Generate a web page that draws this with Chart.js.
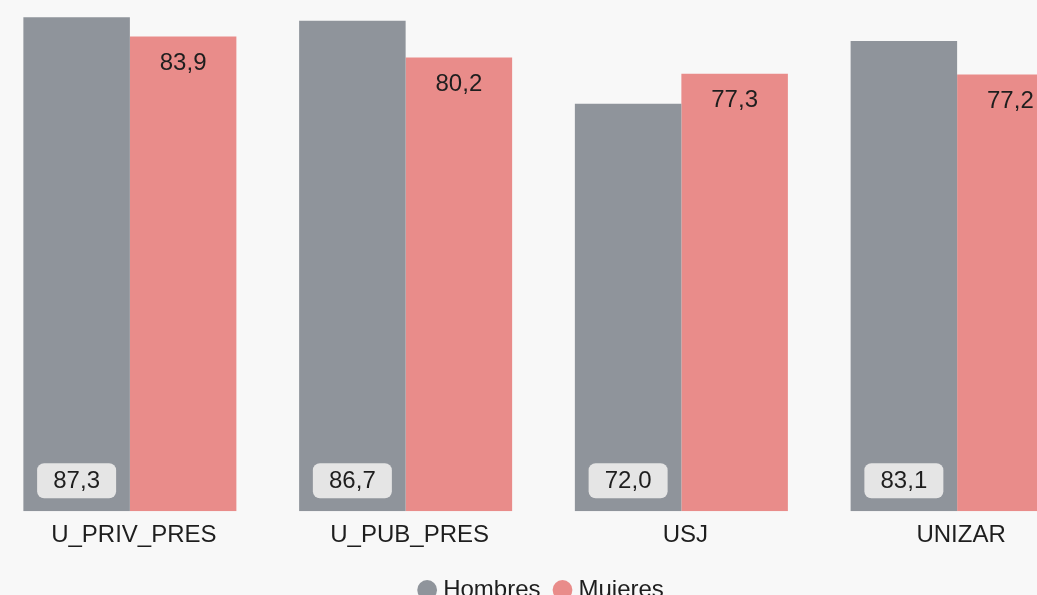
<!DOCTYPE html>
<html>
<head>
<meta charset="utf-8">
<script src="https://cdn.jsdelivr.net/npm/chart.js@4.4.0/dist/chart.umd.min.js"></script>
<style>
  html, body { margin: 0; padding: 0; background: #f8f8f8; overflow: hidden; }
  body { width: 1037px; height: 595px; position: relative; }
  #wrap { position: absolute; left: -8px; top: 0; width: 1103px; height: 612px; }
</style>
</head>
<body>
<div id="wrap"><canvas id="graph"></canvas></div>
<script>
const categories = ['U_PRIV_PRES', 'U_PUB_PRES', 'USJ', 'UNIZAR'];
const hombres = [87.3, 86.7, 72.0, 83.1];
const mujeres = [83.9, 80.2, 77.3, 77.2];

const FONT = 'Arial, "Liberation Sans", Helvetica, sans-serif';

function fmt(v) {
    return v.toFixed(1).replace('.', ',');
}

// value labels: boxed at the bottom for Hombres, plain under the top for Mujeres
const barLabels = {
    id: 'barLabels',
    afterDatasetsDraw(chart) {
        const ctx = chart.ctx;
        ctx.save();
        ctx.font = '24px ' + FONT;
        ctx.textAlign = 'center';
        ctx.textBaseline = 'middle';
        chart.data.datasets.forEach((ds, i) => {
            chart.getDatasetMeta(i).data.forEach((bar, j) => {
                const txt = fmt(ds.data[j]);
                if (i === 0) {
                    const w = 79, h = 35;
                    const bx = bar.x - w / 2;
                    const by = bar.base - 13 - h;
                    ctx.fillStyle = '#e5e5e5';
                    ctx.beginPath();
                    ctx.roundRect(bx, by, w, h, 7);
                    ctx.fill();
                    ctx.fillStyle = '#1e1e1e';
                    ctx.fillText(txt, bar.x, by + h / 2 + 1);
                } else {
                    ctx.fillStyle = '#1e1e1e';
                    ctx.fillText(txt, bar.x, bar.y + 27);
                }
            });
        });
        ctx.restore();
    }
};

const config = {
    type: 'bar',
    data: {
        labels: categories,
        datasets: [
            {
                label: 'Hombres',
                data: hombres,
                backgroundColor: '#8f949b',
                categoryPercentage: 0.7725,
                barPercentage: 1.0
            },
            {
                label: 'Mujeres',
                data: mujeres,
                backgroundColor: '#e98c8a',
                categoryPercentage: 0.7725,
                barPercentage: 1.0
            }
        ]
    },
    options: {
        responsive: true,
        maintainAspectRatio: false,
        animation: false,
        layout: { padding: { top: 2, left: 0, right: 0, bottom: 0 } },
        scales: {
            x: {
                grid: { display: false, drawTicks: false },
                border: { display: false },
                ticks: {
                    color: '#1e1e1e',
                    font: { family: FONT, size: 24 },
                    padding: 10,
                    labelOffset: 4,
                    maxRotation: 0
                }
            },
            y: {
                display: false,
                min: 0,
                max: 90
            }
        },
        plugins: {
            legend: {
                position: 'bottom',
                labels: {
                    usePointStyle: true,
                    pointStyle: 'circle',
                    boxHeight: 14,
                    boxWidth: 8,
                    padding: 18,
                    color: '#1e1e1e',
                    font: { family: FONT, size: 24 }
                }
            },
            tooltip: { enabled: false }
        }
    },
    plugins: [barLabels]
};

const myChart = new Chart(document.getElementById('graph'), config);
</script>
</body>
</html>
